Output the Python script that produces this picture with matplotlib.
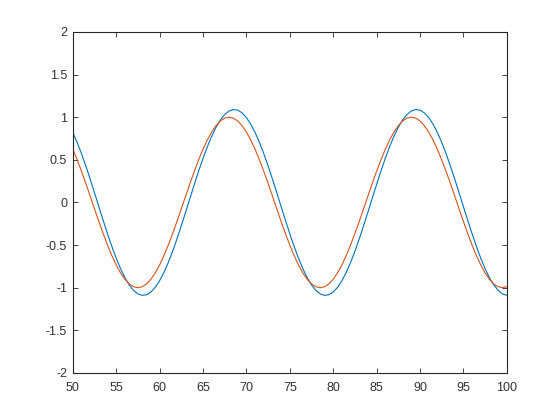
import numpy as np
import matplotlib
matplotlib.use("Agg")
import matplotlib.pyplot as plt

plt.rcParams['font.family'] = ['Liberation Sans', 'DejaVu Sans']

# x samples (step 0.5 from 50 to 100)
x_values = np.arange(50, 100.25, 0.5)

# Orange/red series
red_values = [
    0.6235, 0.5, 0.3653, 0.2225, 0.0747, -0.0747, -0.2225, -0.3653, -0.5, -0.6235,
    -0.7331, -0.8262, -0.9010, -0.9556, -0.9888, -1.0, -0.9888, -0.9556, -0.9010, -0.8262,
    -0.7331, -0.6235, -0.5, -0.3653, -0.2225, -0.0747, 0.0747, 0.2225, 0.3653, 0.5,
    0.6235, 0.7331, 0.8262, 0.9010, 0.9556, 0.9888,
    1.0, 0.9888, 0.9556, 0.9010, 0.8262, 0.7331, 0.6235, 0.5, 0.3653, 0.2225,
    0.0747, -0.0747, -0.2225, -0.3653, -0.5, -0.6235, -0.7331, -0.8262, -0.9010, -0.9556,
    -0.9888, -1.0, -0.9888, -0.9556, -0.9010, -0.8262, -0.7331, -0.6235, -0.5, -0.3653,
    -0.2225, -0.0747, 0.0747, 0.2225, 0.3653, 0.5, 0.6235, 0.7331, 0.8262, 0.9010,
    0.9556, 0.9888,
    1.0, 0.9888, 0.9556, 0.9010, 0.8262, 0.7331, 0.6235, 0.5, 0.3653, 0.2225,
    0.0747, -0.0747, -0.2225, -0.3653, -0.5, -0.6235, -0.7331, -0.8262, -0.9010, -0.9556,
    -0.9888, -1.0, -0.9888,
]

# Blue series
blue_values = [
    0.8208, 0.7048, 0.5730, 0.4284, 0.2742, 0.1139, -0.0489, -0.2107, -0.3677, -0.5165,
    -0.6538, -0.7765, -0.8818, -0.9675, -1.0315, -1.0725, -1.0895, -1.0822, -1.0507, -0.9958,
    -0.9186, -0.8208, -0.7048, -0.5730, -0.4284, -0.2742, -0.1139, 0.0489, 0.2107, 0.3677,
    0.5165, 0.6538, 0.7765, 0.8818, 0.9675, 1.0315, 1.0725,
    1.0895, 1.0822, 1.0507, 0.9958, 0.9186, 0.8208, 0.7048, 0.5730, 0.4284, 0.2742,
    0.1139, -0.0489, -0.2107, -0.3677, -0.5165, -0.6538, -0.7765, -0.8818, -0.9675, -1.0315,
    -1.0725, -1.0895, -1.0822, -1.0507, -0.9958, -0.9186, -0.8208, -0.7048, -0.5730, -0.4284,
    -0.2742, -0.1139, 0.0489, 0.2107, 0.3677, 0.5165, 0.6538, 0.7765, 0.8818, 0.9675,
    1.0315, 1.0725,
    1.0895, 1.0822, 1.0507, 0.9958, 0.9186, 0.8208, 0.7048, 0.5730, 0.4284, 0.2742,
    0.1139, -0.0489, -0.2107, -0.3677, -0.5165, -0.6538, -0.7765, -0.8818, -0.9675, -1.0315,
    -1.0725, -1.0895,
]

x_ticks = [50, 55, 60, 65, 70, 75, 80, 85, 90, 95, 100]
x_tick_labels = ['50', '55', '60', '65', '70', '75', '80', '85', '90', '95', '100']
y_ticks = [-2, -1.5, -1, -0.5, 0, 0.5, 1, 1.5, 2]
y_tick_labels = ['-2', '-1.5', '-1', '-0.5', '0', '0.5', '1', '1.5', '2']

n = min(len(x_values), len(red_values), len(blue_values))

fig = plt.figure(figsize=(5.6, 4.2), dpi=100)
ax = fig.add_axes([0.13, 0.112, 0.775, 0.812])

dark = '#262626'
ax.plot(x_values[:n], blue_values[:n], color='#0072BD', lw=0.8)
ax.plot(x_values[:n], red_values[:n], color='#D95319', lw=0.8)

ax.set_xlim(50, 100)
ax.set_ylim(-2, 2)
ax.set_xticks(x_ticks)
ax.set_xticklabels(x_tick_labels)
ax.set_yticks(y_ticks)
ax.set_yticklabels(y_tick_labels)
ax.tick_params(direction='in', length=3.5, width=0.6, color=dark, labelcolor='#333333',
               labelsize=9, top=True, right=True)
ax.tick_params(axis='x', pad=6.2)
ax.tick_params(axis='y', pad=4)
for s in ax.spines.values():
    s.set_color(dark)
    s.set_linewidth(0.8)

fig.savefig('out.png', dpi=100, facecolor='white')
